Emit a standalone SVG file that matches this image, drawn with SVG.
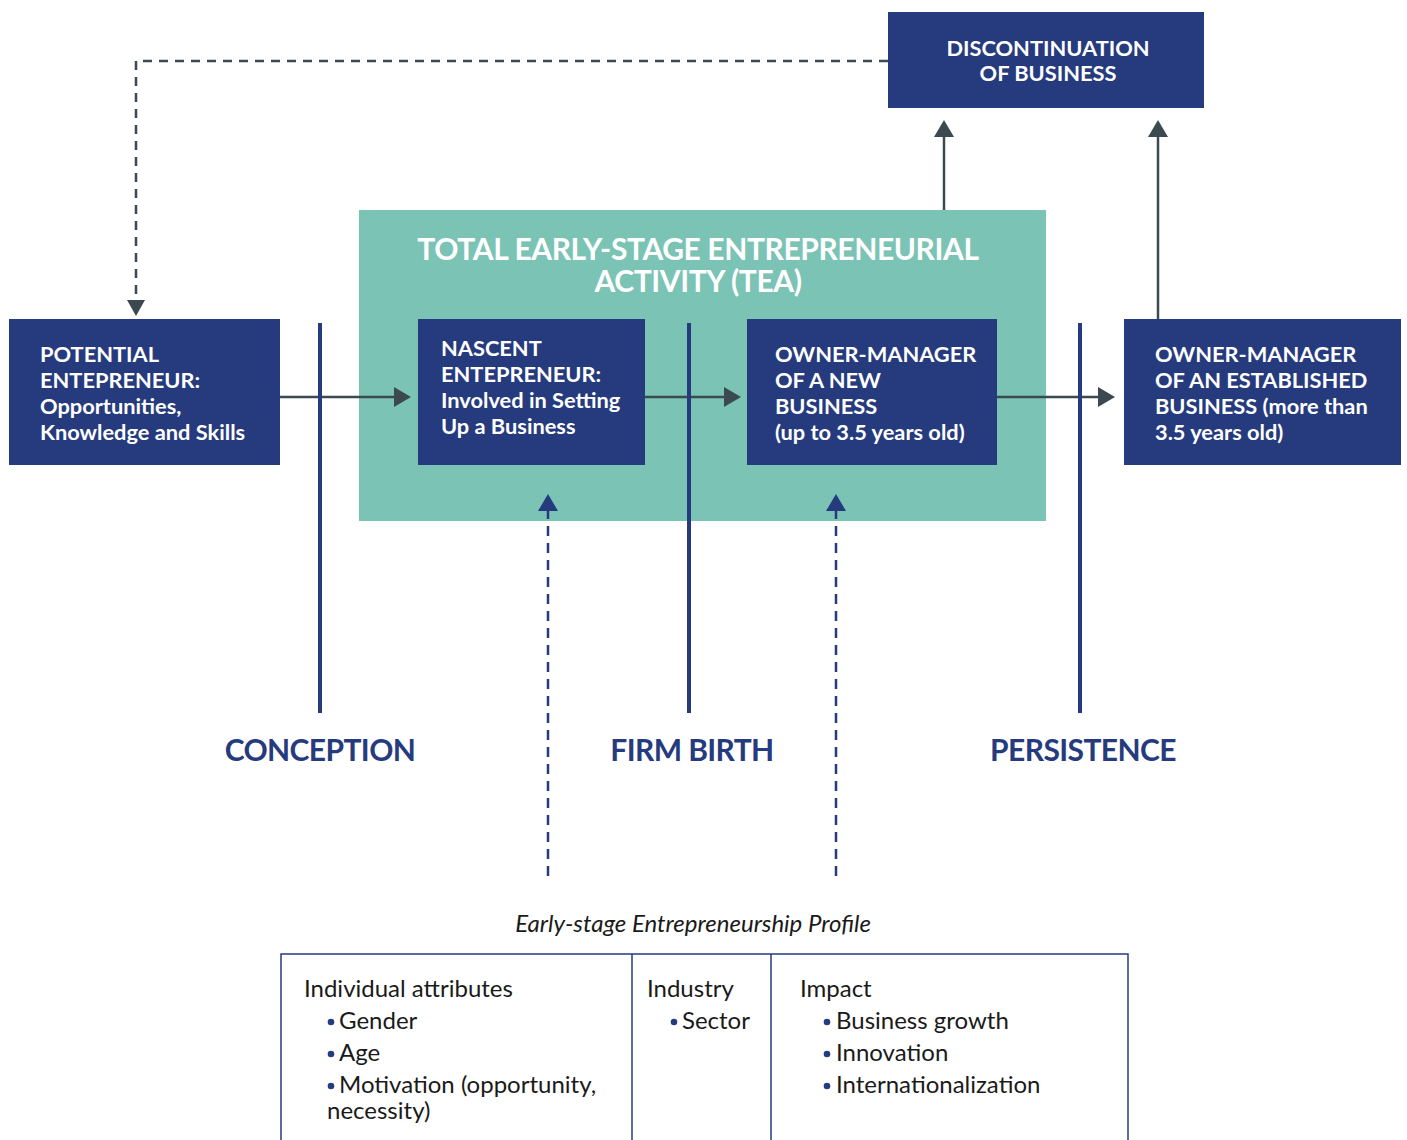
<svg xmlns="http://www.w3.org/2000/svg" width="1407" height="1140" viewBox="0 0 1407 1140">
<style>
.box{fill:#263b7e}
.bt{font-family:Lato,"Liberation Sans",sans-serif;font-weight:bold;font-size:21.8px;fill:#fff}
.stage{font-family:Lato,"Liberation Sans",sans-serif;font-weight:bold;font-size:30px;fill:#263b7e;text-anchor:middle;letter-spacing:-0.6px}
.body{font-family:Lato,"Liberation Sans",sans-serif;font-size:24px;fill:#1a1a1a}
.dot{fill:#263b7e}
.gl{stroke:#3a4a50;stroke-width:2.5;fill:none}
.bl{stroke:#263b7e;stroke-width:4;fill:none}
.bd{stroke:#263b7e;stroke-width:2.5;fill:none;stroke-dasharray:10 7}
</style>
<rect x="359" y="210" width="687" height="311" fill="#7bc3b4"/>
<g id="tea-title">
<text x="698" y="260" text-anchor="middle" font-family="Lato,'Liberation Sans',sans-serif" font-weight="bold" font-size="30" fill="#fff" letter-spacing="-0.4">TOTAL EARLY-STAGE ENTREPRENEURIAL</text>
<text x="698" y="292" text-anchor="middle" font-family="Lato,'Liberation Sans',sans-serif" font-weight="bold" font-size="30" fill="#fff" letter-spacing="-0.4">ACTIVITY (TEA)</text>
</g>
<g id="connectors">
<polyline class="gl" points="888,61 136,61 136,302" stroke-dasharray="9 7"/>
<path d="M127,300 L145,300 L136,316 z" fill="#3a4a50"/>
<line class="gl" x1="280" y1="397" x2="396" y2="397"/>
<path d="M394,387 L411,397 L394,407 z" fill="#3a4a50"/>
<line class="gl" x1="645" y1="397" x2="726" y2="397"/>
<path d="M724,387 L741,397 L724,407 z" fill="#3a4a50"/>
<line class="gl" x1="997" y1="397" x2="1100" y2="397"/>
<path d="M1098,387 L1115,397 L1098,407 z" fill="#3a4a50"/>
<line class="gl" x1="944" y1="210" x2="944" y2="134"/>
<path d="M934,137 L944,120 L954,137 z" fill="#3a4a50"/>
<line class="gl" x1="1158" y1="319" x2="1158" y2="134"/>
<path d="M1148,137 L1158,120 L1168,137 z" fill="#3a4a50"/>
<line class="bd" x1="548" y1="876" x2="548" y2="510"/>
<path d="M538,511 L548,494 L558,511 z" fill="#263b7e"/>
<line class="bd" x1="836" y1="876" x2="836" y2="510"/>
<path d="M826,511 L836,494 L846,511 z" fill="#263b7e"/>
<line class="bl" x1="320" y1="323" x2="320" y2="713"/>
<line class="bl" x1="689" y1="323" x2="689" y2="713"/>
<line class="bl" x1="1080" y1="323" x2="1080" y2="713"/>
</g>
<g id="discontinuation">
<rect class="box" x="888" y="12" width="316" height="96"/>
<text class="bt" x="1048" y="56" text-anchor="middle">DISCONTINUATION</text>
<text class="bt" x="1048" y="81" text-anchor="middle">OF BUSINESS</text>
</g>
<g id="potential">
<rect class="box" x="9" y="319" width="271" height="146"/>
<text class="bt" x="40" y="362">POTENTIAL</text>
<text class="bt" x="40" y="388">ENTEPRENEUR:</text>
<text class="bt" x="40" y="414">Opportunities,</text>
<text class="bt" x="40" y="440">Knowledge and Skills</text>
</g>
<g id="nascent">
<rect class="box" x="418" y="319" width="227" height="146"/>
<text class="bt" x="441" y="356">NASCENT</text>
<text class="bt" x="441" y="382">ENTEPRENEUR:</text>
<text class="bt" x="441" y="408">Involved in Setting</text>
<text class="bt" x="441" y="434">Up a Business</text>
</g>
<g id="owner-new">
<rect class="box" x="747" y="319" width="250" height="146"/>
<text class="bt" x="775" y="362">OWNER-MANAGER</text>
<text class="bt" x="775" y="388">OF A NEW</text>
<text class="bt" x="775" y="414">BUSINESS</text>
<text class="bt" x="775" y="440">(up to 3.5 years old)</text>
</g>
<g id="owner-established">
<rect class="box" x="1124" y="319" width="277" height="146"/>
<text class="bt" x="1155" y="362">OWNER-MANAGER</text>
<text class="bt" x="1155" y="388">OF AN  ESTABLISHED</text>
<text class="bt" x="1155" y="414">BUSINESS (more than</text>
<text class="bt" x="1155" y="440">3.5 years old)</text>
</g>
<g id="stages">
<text class="stage" x="320" y="761">CONCEPTION</text>
<text class="stage" x="692" y="761">FIRM BIRTH</text>
<text class="stage" x="1083" y="761">PERSISTENCE</text>
</g>
<g id="profile">
<text x="693" y="932" text-anchor="middle" font-family="Lato,'Liberation Sans',sans-serif" font-style="italic" font-size="24" fill="#1a1a1a">Early-stage Entrepreneurship Profile</text>
<path d="M281,1140 L281,954 L1128,954 L1128,1140 M632,954 L632,1140 M771,954 L771,1140" stroke="#263b7e" stroke-width="1.5" fill="none"/>
<text class="body" x="304" y="997">Individual attributes</text>
<circle class="dot" cx="331" cy="1022" r="3.3"/><text class="body" x="339" y="1029">Gender</text>
<circle class="dot" cx="331" cy="1054" r="3.3"/><text class="body" x="339" y="1061">Age</text>
<circle class="dot" cx="331" cy="1086" r="3.3"/><text class="body" x="339" y="1093">Motivation (opportunity,</text>
<text class="body" x="327" y="1119">necessity)</text>
<text class="body" x="647" y="997">Industry</text>
<circle class="dot" cx="674" cy="1022" r="3.3"/><text class="body" x="682" y="1029">Sector</text>
<text class="body" x="800" y="997">Impact</text>
<circle class="dot" cx="827" cy="1022" r="3.3"/><text class="body" x="836" y="1029">Business growth</text>
<circle class="dot" cx="827" cy="1054" r="3.3"/><text class="body" x="836" y="1061">Innovation</text>
<circle class="dot" cx="827" cy="1086" r="3.3"/><text class="body" x="836" y="1093">Internationalization</text>
</g>
</svg>
